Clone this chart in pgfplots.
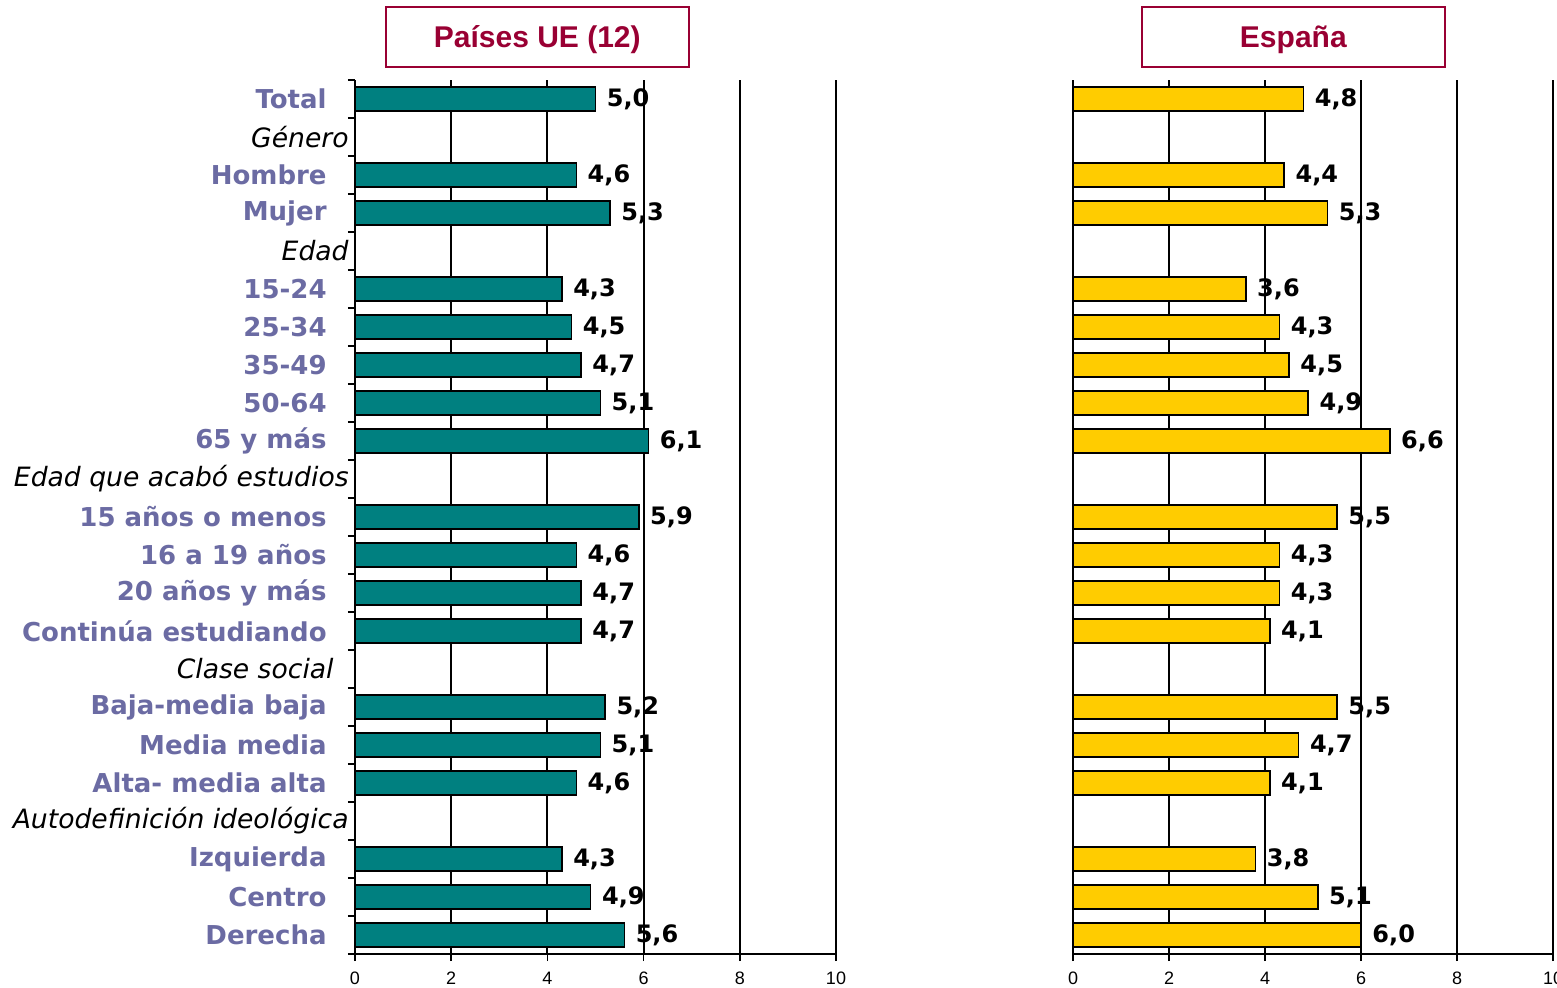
\documentclass[border=0pt]{standalone}
\usepackage{fontspec}
\setmainfont{Liberation Sans}
\newfontfamily\dejavu{DejaVu Sans}
\usepackage{pgfplots}
\pgfplotsset{compat=1.18}

\definecolor{catblue}{HTML}{6B6BA3}
\definecolor{titlered}{HTML}{990033}
\definecolor{eubar}{HTML}{008080}
\definecolor{esbar}{HTML}{FFCC00}

% category names (blue, bold) and group headers (italic); \kern survives the node's \unskip
\newcommand{\cat}[1]{{\color{catblue}\dejavu\bfseries\fontsize{13}{15}\selectfont #1}\kern14pt}
\newcommand{\grp}[2][3pt]{{\dejavu\itshape\fontsize{13.3}{15}\selectfont #2}\kern#1}

\pgfplotsset{
  panel/.style={
    scale only axis,
    width=240pt, height=437pt,
    xbar, bar width=0.62,
    xmin=0, xmax=10, ymin=-0.5, ymax=22.5,
    axis lines*=left,
    axis line style={-, line width=1pt},
    xtick={0,2,...,10},
    tick align=outside,
    major tick length=3.5pt,
    tick style={black, line width=0.8pt},
    xmajorgrids,
    grid style={black, line width=1pt},
    xticklabel style={font=\fontsize{9}{10}\selectfont, yshift=-2pt},
    /pgf/number format/assume math mode=true,
    point meta=x,
    nodes near coords={\pgfmathprintnumber[fixed,precision=1,zerofill,use comma]{\pgfplotspointmeta}},
    every node near coord/.append style={font=\dejavu\bfseries\fontsize{12}{14}\selectfont, black, xshift=2pt},
    clip=false,
    title style={draw=titlered, line width=1pt, text=titlered,
      font=\bfseries\fontsize{15}{17}\selectfont,
      minimum width=151.5pt, minimum height=30pt, inner sep=0pt,
      text height=11pt, text depth=0pt,
      anchor=center, yshift=15.5pt},
  }
}

\begin{document}
\begin{tikzpicture}
\useasboundingbox (0,0) rectangle (778.5pt,493.5pt);

% Países UE (12)
\begin{axis}[panel,
    at={(177.5pt,16.5pt)}, anchor=south west,
    width=240.5pt,
    title={Países UE (12)},
    title style={at={(axis description cs:0.379,1)}},
    ytick={-0.5,0.5,...,22.5},
    yticklabel={\phantom{0}},
    extra y ticks={0,1,...,22},
    extra y tick labels={
      \cat{Derecha},\cat{Centro},\cat{Izquierda},\grp{Autodefinición ideológica},
      \cat{Alta- media alta},\cat{Media media},\cat{Baja-media baja},\grp[10.5pt]{Clase social},
      \cat{Continúa estudiando},\cat{20 años y más},\cat{16 a 19 años},\cat{15 años o menos},
      \grp{Edad que acabó estudios},\cat{65 y más},\cat{50-64},\cat{35-49},\cat{25-34},\cat{15-24},
      \grp{Edad},\cat{Mujer},\cat{Hombre},\grp{Género},\cat{Total}},
    extra y tick style={major tick length=0pt,
      tick label style={anchor=east, inner sep=0pt}},
  ]
  \addplot[fill=eubar, draw=black, line width=0.75pt] coordinates {
    (5.0,22) (4.6,20) (5.3,19)
    (4.3,17) (4.5,16) (4.7,15) (5.1,14) (6.1,13)
    (5.9,11) (4.6,10) (4.7,9) (4.7,8)
    (5.2,6) (5.1,5) (4.6,4)
    (4.3,2) (4.9,1) (5.6,0)};
\end{axis}

% España
\begin{axis}[panel,
    at={(536.5pt,16.5pt)}, anchor=south west,
    title={España},
    title style={at={(axis description cs:0.459,1)}},
    ytick=\empty,
  ]
  \addplot[fill=esbar, draw=black, line width=0.75pt] coordinates {
    (4.8,22) (4.4,20) (5.3,19)
    (3.6,17) (4.3,16) (4.5,15) (4.9,14) (6.6,13)
    (5.5,11) (4.3,10) (4.3,9) (4.1,8)
    (5.5,6) (4.7,5) (4.1,4)
    (3.8,2) (5.1,1) (6.0,0)};
\end{axis}
\end{tikzpicture}
\end{document}
